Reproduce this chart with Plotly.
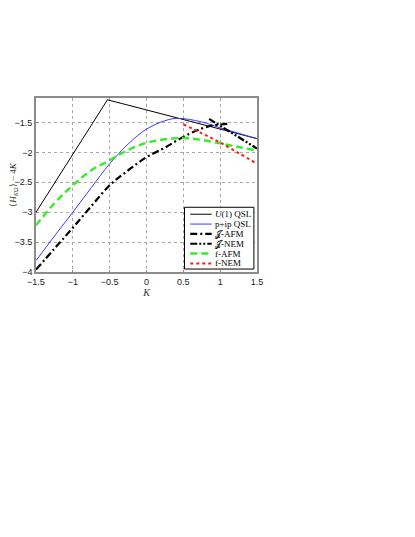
"""
Energy curves <H> - 4K versus K for the candidate phases.
"""
import plotly.graph_objects as go

# U(1) QSL: piecewise straight
k_u1 = [-1.5, -0.53, 1.5]
e_u1 = [-3.0, -1.12, -1.77]

# p+ip QSL
k_pip = [-1.5, -1.25, -1.0, -0.75, -0.5, -0.25, 0.0, 0.25, 0.42, 0.75, 1.0, 1.25, 1.5]
e_pip = [-3.81, -3.40, -3.0, -2.59, -2.19, -1.86, -1.61, -1.47, -1.43, -1.49, -1.59, -1.68, -1.77]

# J-AFM
k_jafm = [-1.5, -1.25, -1.0, -0.75, -0.5, -0.25, 0.0, 0.25, 0.5, 0.75, 0.9, 1.13]
e_jafm = [-3.96, -3.61, -3.26, -2.90, -2.55, -2.30, -2.08, -1.92, -1.74, -1.60, -1.55, -1.52]

# J-NEM
k_jnem = [0.85, 1.0, 1.25, 1.5]
e_jnem = [-1.44, -1.555, -1.74, -1.935]

# f-AFM
k_fafm = [-1.5, -1.25, -1.0, -0.75, -0.5, -0.25, 0.0, 0.25, 0.5, 0.75, 1.0, 1.25, 1.5]
e_fafm = [-3.22, -2.85, -2.55, -2.30, -2.13, -1.96, -1.84, -1.78, -1.76, -1.79, -1.85, -1.91, -1.97]

# f-NEM
k_fnem = [0.5, 0.75, 1.0, 1.25, 1.5]
e_fnem = [-1.53, -1.68, -1.835, -2.01, -2.19]

x_ticks = [-1.5, -1, -0.5, 0, 0.5, 1, 1.5]
y_ticks = [-4, -3.5, -3, -2.5, -2, -1.5]


def add_box_legend(fig):
    """Compact boxed legend like the original (plotly's own legend rows are too tall)."""
    fig.add_shape(type="rect", xref="paper", yref="paper",
                  x0=0.672, x1=0.986, y0=0.017, y1=0.372,
                  line=dict(color="black", width=1), fillcolor="white", layer="above")
    y = 0.332
    for tr in fig.data:
        fig.add_shape(type="line", xref="paper", yref="paper",
                      x0=0.698, x1=0.795, y0=y, y1=y, layer="above",
                      line=dict(color=tr.line.color, width=tr.line.width, dash=tr.line.dash))
        fig.add_annotation(xref="paper", yref="paper", x=0.803, y=y,
                           xanchor="left", yanchor="middle", showarrow=False,
                           text=tr.name,
                           font=dict(family="Liberation Serif", size=9, color="black"))
        y -= 0.0565


def main():
    fig = go.Figure()
    fig.add_trace(go.Scatter(x=k_u1, y=e_u1, mode="lines", name="<i>U</i>(1) QSL",
                             line=dict(color="black", width=1)))
    fig.add_trace(go.Scatter(x=k_pip, y=e_pip, mode="lines", name="p+ip QSL",
                             line=dict(color="#3a3aff", width=1, shape="spline")))
    fig.add_trace(go.Scatter(x=k_jafm, y=e_jafm, mode="lines", name="\U0001D4A5-AFM",
                             line=dict(color="black", width=2.2, shape="spline",
                                       dash="7px,3px,2px,3px")))
    fig.add_trace(go.Scatter(x=k_jnem, y=e_jnem, mode="lines", name="\U0001D4A5-NEM",
                             line=dict(color="black", width=2.2,
                                       dash="7px,2px,2px,2px,2px,2px")))
    fig.add_trace(go.Scatter(x=k_fafm, y=e_fafm, mode="lines", name="f-AFM",
                             line=dict(color="#33ee22", width=2.4, shape="spline",
                                       dash="7px,4px")))
    fig.add_trace(go.Scatter(x=k_fnem, y=e_fnem, mode="lines", name="f-NEM",
                             line=dict(color="#ff1a1a", width=2, shape="spline",
                                       dash="dot")))

    axis_common = dict(
        automargin=False,
        showline=True, mirror=True, linecolor="#8c8c8c", linewidth=1.6,
        showgrid=True, gridcolor="#a8a8a8", gridwidth=0.7, griddash="dot",
        zeroline=False, ticks="inside", ticklen=2, tickcolor="#8c8c8c",
        tickfont=dict(family="Liberation Sans", size=9, color="#222"),
    )
    # page body has an 8px margin, so the figure is offset by it
    fig.update_layout(
        width=407, height=529,
        margin=dict(l=27.5, r=158, t=89.7, b=265.3),
        paper_bgcolor="white", plot_bgcolor="white",
        xaxis=dict(range=[-1.5, 1.5], tickvals=x_ticks,
                   title=dict(text="<i>K</i>", standoff=2,
                              font=dict(family="Liberation Serif", size=10, color="#333")),
                   **axis_common),
        yaxis=dict(range=[-4, -1.09], tickvals=y_ticks,
                   title=dict(text="⟨<i>H</i><sub><i>K</i>Ω</sub>⟩ − 4<i>K</i>", standoff=4,
                              font=dict(family="Liberation Serif", size=9, color="#333")),
                   **axis_common),
        showlegend=False,
    )
    add_box_legend(fig)
    fig.write_html("out.html")


if __name__ == "__main__":
    main()
